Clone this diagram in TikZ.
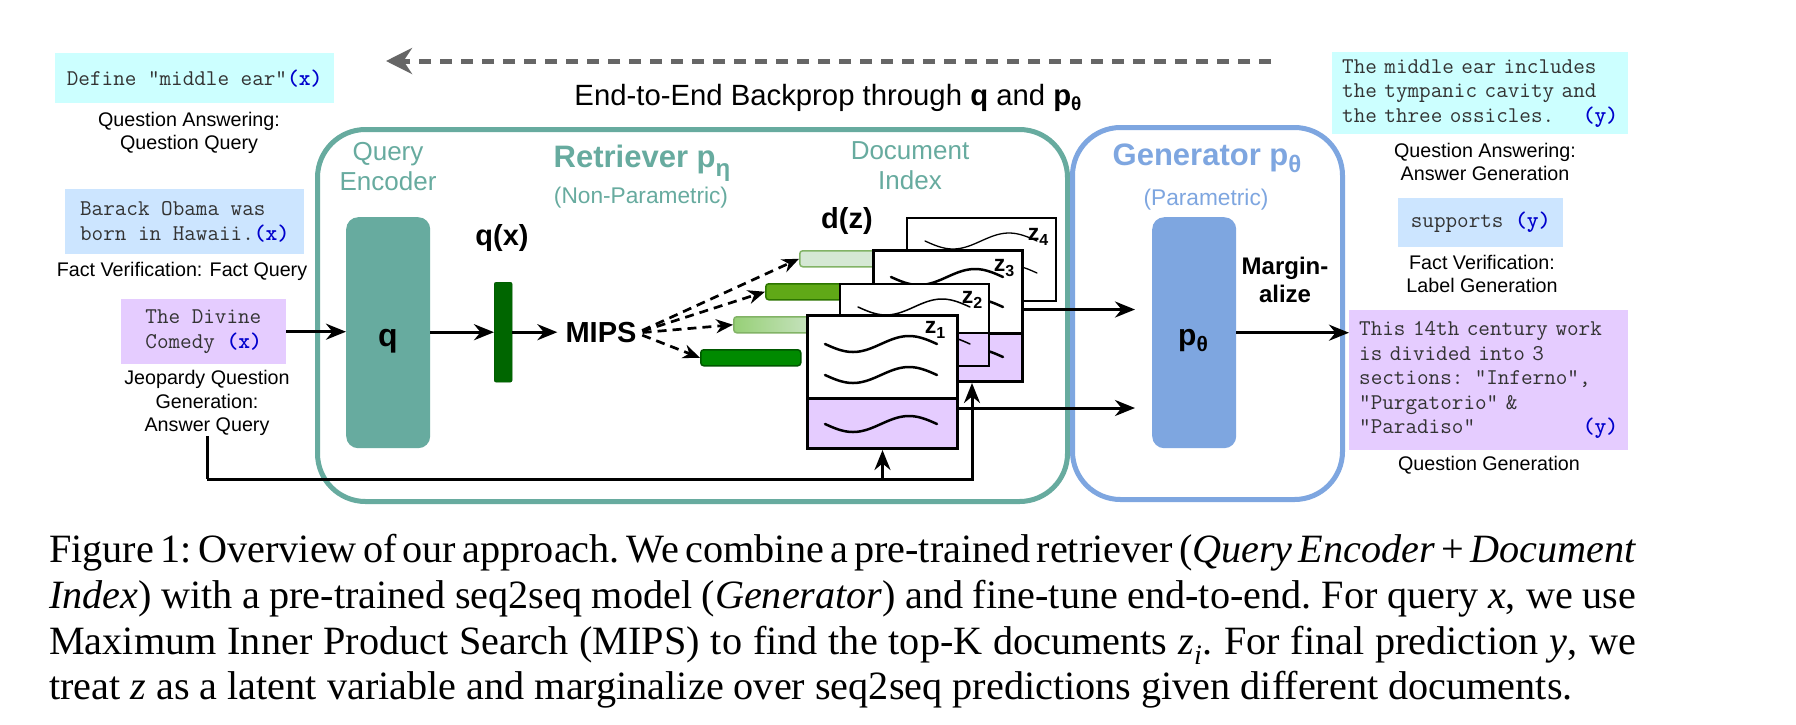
\documentclass[tikz,border=0pt]{standalone}
\usepackage{fontspec}
\setmainfont{Liberation Serif}
\setsansfont{Liberation Sans}
\usetikzlibrary{arrows.meta}
\definecolor{retc}{HTML}{67AB9F}
\definecolor{genc}{HTML}{7EA6E0}
\definecolor{cyanbg}{HTML}{CCFFFF}
\definecolor{bluebg}{HTML}{CCE5FF}
\definecolor{purpbg}{HTML}{E5CCFF}
\definecolor{qvecc}{HTML}{006600}
\definecolor{bpgray}{HTML}{666666}
\definecolor{monoc}{HTML}{333333}
\definecolor{xyblue}{HTML}{0000CC}
\definecolor{barAfill}{HTML}{D5E8D4}
\definecolor{barAline}{HTML}{82B366}
\definecolor{barBfill}{HTML}{60A917}
\definecolor{barBline}{HTML}{2D7600}
\definecolor{barCleft}{HTML}{97D077}
\definecolor{barDfill}{HTML}{008A00}
\definecolor{barDline}{HTML}{005700}
\newcommand{\xvar}{\textcolor{xyblue}{\textbf{(x)}}}
\newcommand{\yvar}{\textcolor{xyblue}{\textbf{(y)}}}
\newcommand{\lowsub}[3]{\raisebox{-#3pt}{\fontsize{#2}{#2}\selectfont #1}}
\newcommand{\docwave}[4]{\draw[line width=#4pt, line cap=round] plot[smooth, samples=25, domain=0:1, variable=\t] ({#1+#3*\t},{#2+8*sin(360*\t)});}
\newcommand{\capline}[1]{{\spaceskip=0.14em plus 1em minus 0.06em\xspaceskip=0.16em plus 1em minus 0.06em\makebox[1587pt][s]{#1}}}
\tikzset{
  lbl/.style={font=\sffamily\fontsize{19.7}{23.6}\selectfont, align=center, inner sep=0pt},
  mono/.style={font=\ttfamily\fontsize{22.5}{24.5}\selectfont, text=monoc, align=left, inner sep=0pt},
  tbox/.style={anchor=north west, inner sep=0pt},
  arr/.style={line width=3pt, -{Stealth[length=20pt,width=16pt]}},
  darr/.style={line width=2.7pt, dash pattern=on 9pt off 6pt, shorten <=6pt, -{Stealth[length=17pt,width=14pt]}},
  doc/.style={draw, fill=white, anchor=north west, inner sep=0pt},
  bar/.style={rounded corners=3pt, anchor=north west, inner sep=0pt, minimum width=100pt, minimum height=16pt, line width=1.5pt},
  zlab/.style={font=\sffamily\bfseries\fontsize{23}{23}\selectfont, inner sep=0pt},
  capt/.style={font=\rmfamily\fontsize{40.2}{45}\selectfont, inner sep=0pt, anchor=base west},
  ttl/.style={font=\sffamily\fontsize{26}{30}\selectfont, inner sep=0pt, align=center}
}
\begin{document}
\begin{tikzpicture}[x=1pt,y=-1pt]
\useasboundingbox (0,0) rectangle (1796,724);
\fill[white] (0,0) rectangle (1796,724);

% big containers
\node[draw=retc, line width=5pt, rounded corners=48pt, minimum width=750pt, minimum height=372pt, tbox] (retr) at (315,127) {};
\node[draw=genc, line width=5pt, rounded corners=48pt, minimum width=270pt, minimum height=372pt, tbox] (gen) at (1070,125) {};

% backprop arrow
\coordinate (bpR) at (1271,61);
\coordinate (bpL) at (386,61);
\draw[bpgray, line width=5pt, dash pattern=on 12pt off 9pt, -{Stealth[length=26pt,width=26pt]}] (bpR) -- (bpL);
\node[font=\sffamily\fontsize{29.3}{30}\selectfont, inner sep=0pt, anchor=base] (bptext) at (828,105) {End-to-End Backprop through \textbf{q} and \textbf{p\lowsub{θ}{19}{5}}};

% titles
\node[ttl, text=retc] (qetitle) at (388,167) {Query\\Encoder};
\node[font=\sffamily\bfseries\fontsize{31}{31}\selectfont, text=retc, inner sep=0pt, anchor=base] (rettitle) at (642,167) {Retriever p\lowsub{η}{24}{9}};
\node[font=\sffamily\fontsize{22.7}{24}\selectfont, text=retc, inner sep=0pt, anchor=base] (retsub) at (641,203) {(Non-Parametric)};
\node[ttl, text=retc] (ditile) at (910,166) {Document\\Index};
\node[font=\sffamily\bfseries\fontsize{31}{31}\selectfont, text=genc, inner sep=0pt, anchor=base] (gentitle) at (1207,165) {Generator p\lowsub{θ}{24}{7}};
\node[font=\sffamily\fontsize{22.7}{24}\selectfont, text=genc, inner sep=0pt, anchor=base] (gensub) at (1206,205) {(Parametric)};

% left input boxes
\node[fill=cyanbg, minimum width=279pt, minimum height=50pt, tbox] (defbox) at (55,53) {};
\node[mono] (deftext) at (defbox.center) {Define "middle ear"\xvar};
\node[lbl] (qalbl) at (189,133) {Question Answering:\\Question Query};
\node[fill=bluebg, minimum width=239pt, minimum height=65pt, tbox] (barbox) at (65,189) {};
\node[mono] (bartext) at (barbox.center) {Barack Obama was\\born in Hawaii.\xvar};
\node[lbl] (fvlbl) at (182,271) {Fact Verification: Fact Query};
\node[fill=purpbg, minimum width=165pt, minimum height=65pt, tbox] (divbox) at (121,299) {};
\node[mono] (divtext) at (divbox.center) {The Divine\\Comedy \xvar};
\node[lbl] (jeo) at (207,403) {Jeopardy Question\\Generation:\\Answer Query};

% query encoder
\node[fill=retc, rounded corners=12pt, minimum width=84pt, minimum height=231pt, tbox] (qenc) at (346,217) {};
\node[font=\sffamily\bfseries\fontsize{32}{32}\selectfont, inner sep=0pt] (qlet) at (388,341) {q};
\node[fill=qvecc, draw=qvecc!80!black, rounded corners=2pt, minimum width=18pt, minimum height=100pt, tbox] (qvec) at (494,282) {};
\node[font=\sffamily\bfseries\fontsize{29}{29}\selectfont, inner sep=0pt, anchor=base] (qxlbl) at (502,245) {q(x)};
\node[font=\sffamily\bfseries\fontsize{29}{29}\selectfont, inner sep=0pt] (mips) at (601,333) {MIPS};
\node[font=\sffamily\bfseries\fontsize{29}{29}\selectfont, inner sep=0pt, anchor=base] (dzlbl) at (847,228) {d(z)};

\draw[arr] (divbox.east) -- (divbox.east -| qenc.west);
\draw[arr] (qenc.east |- qvec.west) -- (qvec.west);
\draw[arr, shorten >=8pt] (qvec.east) -- (qvec.east -| mips.west);

% bars
\node[bar, fill=barAfill, draw=barAline] (barA) at (799,250) {};
\node[bar, fill=barBfill, draw=barBline] (barB) at (765,283) {};
\node[bar, left color=barCleft, right color=barAfill, draw=barAline] (barC) at (733,316) {};
\node[bar, fill=barDfill, draw=barDline] (barD) at (700,349) {};
\draw[darr] (mips.east) -- (barA.west);
\draw[darr] (mips.east) -- (barB.west);
\draw[darr] (mips.east) -- (barC.west);
\draw[darr] (mips.east) -- (barD.west);

% documents
\node[doc, line width=1.5pt, minimum width=149pt, minimum height=83pt] (z4doc) at (906,217) {};
\docwave{925}{241}{112}{1.3}
\docwave{925}{273}{112}{1.3}
\node[zlab] (z4lab) at (1038,237) {z\lowsub{4}{16}{5}};

\node[doc, line width=3pt, minimum width=149pt, minimum height=83pt] (z3top) at (872,249) {};
\node[doc, line width=3pt, fill=purpbg, minimum width=149pt, minimum height=48pt] (z3bot) at (872,332) {};
\docwave{891}{277}{112}{2.5}
\docwave{891}{307}{112}{2.5}
\docwave{891}{357}{112}{2.5}
\node[zlab] (z3lab) at (1004,268) {z\lowsub{3}{16}{5}};

\node[doc, line width=2pt, minimum width=149pt, minimum height=49pt] (z2top) at (839,283) {};
\node[doc, line width=2pt, fill=purpbg, minimum width=149pt, minimum height=33pt] (z2bot) at (839,332) {};
\docwave{858}{307}{112}{1.5}
\docwave{858}{344}{112}{1.5}
\node[zlab] (z2lab) at (972,300) {z\lowsub{2}{16}{5}};

\node[doc, line width=3pt, minimum width=150pt, minimum height=83pt] (z1top) at (806,314) {};
\node[doc, line width=3pt, fill=purpbg, minimum width=150pt, minimum height=50pt] (z1bot) at (806,397) {};
\docwave{825}{344}{112}{2.5}
\docwave{825}{375}{112}{2.5}
\docwave{825}{424}{112}{2.5}
\node[zlab] (z1lab) at (935,330) {z\lowsub{1}{16}{5}};

% generator
\node[fill=genc, rounded corners=12pt, minimum width=84pt, minimum height=231pt, tbox] (pgen) at (1152,217) {};
\node[font=\sffamily\bfseries\fontsize{30}{30}\selectfont, inner sep=0pt] (plet) at (1193,341) {p\lowsub{θ}{21}{6}};
\node[font=\sffamily\bfseries\fontsize{24}{28}\selectfont, inner sep=0pt, align=center] (marg) at (1285,280) {Margin-\\alize};

\coordinate (o3) at ([yshift=-17.5pt]z3top.east);
\coordinate (o1) at ([yshift=-8pt]z1top.south east);
\draw[arr, shorten >=17pt] (o3) -- (o3 -| pgen.west);
\draw[arr, shorten >=17pt] (o1) -- (o1 -| pgen.west);

% bottom feed
\coordinate (busL) at (207,479);
\draw[line width=3pt] (jeo.south) -- (busL);
\draw[arr] (busL) -| ([xshift=24pt]z3bot.south);
\draw[arr] (z1bot.south |- busL) -- (z1bot.south);

% right outputs
\node[fill=cyanbg, minimum width=296pt, minimum height=82pt, tbox] (ansbox) at (1332,52) {};
\node[mono, text width=276pt] (anstext) at (ansbox.center) {The middle ear includes\\the tympanic cavity and\\the three ossicles.\hskip 0pt plus 1filll\yvar};
\node[lbl] (qaout) at (1485,162) {Question Answering:\\Answer Generation};
\node[fill=bluebg, minimum width=165pt, minimum height=49pt, tbox] (supbox) at (1398,198) {};
\node[mono] (suptext) at (supbox.center) {supports \yvar};
\node[lbl] (fvout) at (1482,274) {Fact Verification:\\Label Generation};
\node[fill=purpbg, minimum width=279pt, minimum height=140pt, tbox] (outbox) at (1349,310) {};
\node[mono, text width=259pt] (outtext) at (outbox.center) {This 14th century work\\is divided into 3\\sections: "Inferno",\\"Purgatorio" \&\\"Paradiso"\hskip 0pt plus 1filll\yvar};
\node[lbl] (qgout) at (1489,465) {Question Generation};

\draw[arr] (pgen.east) -- (pgen.east -| outbox.west);

% caption
\node[capt] (cap1) at (49,562) {\capline{Figure 1: Overview of our approach. We combine a pre-trained retriever (\textit{Query Encoder} + \textit{Document}}};
\node[capt] (cap2) at (49,608) {\capline{\textit{Index}) with a pre-trained seq2seq model (\textit{Generator}) and fine-tune end-to-end. For query \textit{x}, we use}};
\node[capt] (cap3) at (49,654) {\capline{Maximum Inner Product Search (MIPS) to find the top-K documents \textit{z}\textsubscript{\textit{i}}. For final prediction \textit{y}, we}};
\node[capt] (cap4) at (49,699) {treat \textit{z} as a latent variable and marginalize over seq2seq predictions given different documents.};
\end{tikzpicture}
\end{document}
